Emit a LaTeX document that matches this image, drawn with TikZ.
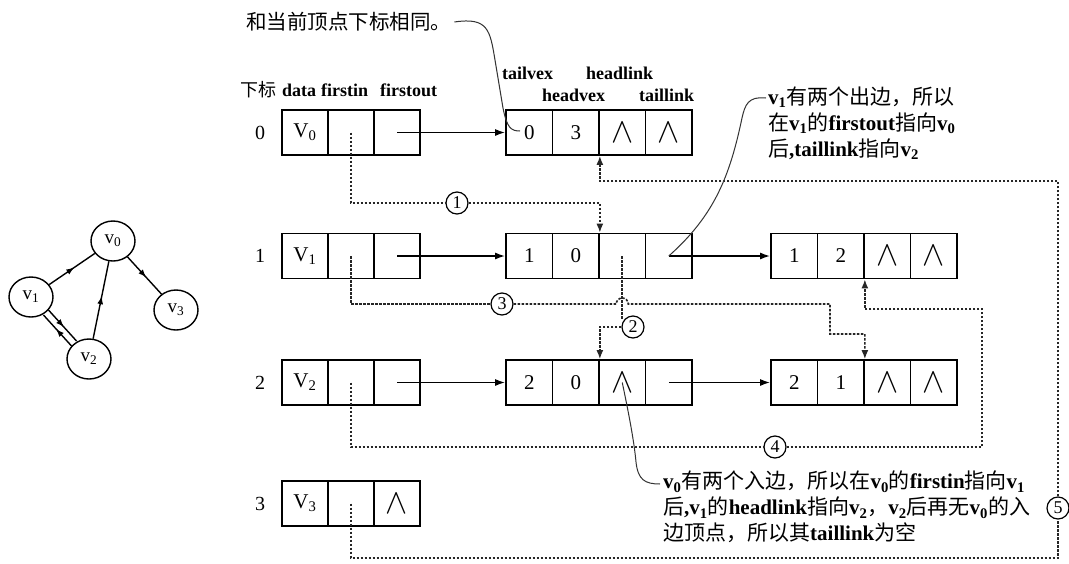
\documentclass[tikz,border=0pt]{standalone}
\usepackage{fontspec}
\usepackage{graphicx}
\setmainfont{Liberation Serif}
\newfontfamily\cjk{Noto Sans CJK SC}
\usetikzlibrary{arrows.meta,shapes.geometric,decorations.markings,calc}
\newcommand\zh[1]{{\cjk\mdseries #1}}
\newcommand\sbs[1]{\textsubscript{#1}}
\newcommand\nil{\scalebox{1.6}[1.7]{$\wedge$}}
\newcommand\vrow[4]{%
  \node[rowlbl] (r#1) at (260,#2) {#1};
  \node[vcell] (v#1d) at (305,#2) {#3};
  \node[vcell] (v#1i) at (351,#2) {};
  \node[vcell] (v#1o) at (397,#2) {#4};
}
\newcommand\arcbox[7]{%
  \node[cell] (#1a) at (#2+23.25,#3) {#4};
  \node[cell] (#1b) at (#2+69.75,#3) {#5};
  \node[cell] (#1c) at (#2+116.25,#3) {#6};
  \node[cell] (#1d) at (#2+162.75,#3) {#7};
}
\begin{document}
\begin{tikzpicture}[x=1pt,y=-1pt,
  cell/.style={draw,line width=1.7pt,minimum width=46.5pt,minimum height=45pt,inner sep=0pt,font=\fontsize{21}{21}\selectfont},
  vcell/.style={cell,minimum width=46pt},
  rowlbl/.style={inner sep=0pt,font=\fontsize{20}{20}\selectfont},
  hdr/.style={anchor=west,inner sep=0pt,font=\bfseries\fontsize{18}{20}\selectfont},
  ann/.style={anchor=north west,align=left,inner sep=0pt,font=\bfseries\fontsize{21}{26}\selectfont},
  arr/.style={line width=1.6pt,-{Latex[length=10pt,width=7pt]}},
  dsh/.style={line width=1.6pt,dash pattern=on 2.5pt off 1.5pt,black!85},
  dsharr/.style={dsh,-{Latex[length=9pt,width=7pt]}},
  num/.style={circle,draw,line width=1.2pt,fill=white,inner sep=0pt,minimum size=22pt,font=\fontsize{18}{18}\selectfont},
  lead/.style={line width=1pt,black!80},
  gnode/.style={ellipse,draw,line width=1.4pt,minimum width=44pt,minimum height=40pt,inner sep=0pt,font=\fontsize{19}{19}\selectfont},
  gedge/.style={line width=1.4pt,postaction={decorate},decoration={markings,mark=at position 0.55 with {\arrow{Latex[length=8pt,width=6pt]}}}}
]
\useasboundingbox (0,0) rectangle (1069,563);
\fill[white] (0,0) rectangle (1069,563);

% graph
\node[gnode] (g0) at (113,241) {v\sbs{0}};
\node[gnode] (g1) at (31,297) {v\sbs{1}};
\node[gnode] (g2) at (89,359) {v\sbs{2}};
\node[gnode] (g3) at (176,310) {v\sbs{3}};
\draw[gedge] (g1) -- (g0);
\draw[gedge] (g2) -- (g0);
\draw[gedge] (g0) -- (g3);
\draw[gedge] ([shift={(2.5,-2.5)}]g1.-46) -- ([shift={(2.5,-2.5)}]g2.134);
\draw[gedge] ([shift={(-2.5,2.5)}]g2.134) -- ([shift={(-2.5,2.5)}]g1.-46);

% headers
\node[hdr] (h0) at (240,90) {\zh{下标}\hspace{6pt}data\hspace{5pt}firstin\hspace{12pt}firstout};
\node[hdr] (h1) at (502,73) {tailvex};
\node[hdr] (h2) at (586,73) {headlink};
\node[hdr] (h3) at (542,95) {headvex};
\node[hdr] (h4) at (639,95) {taillink};

% vertex table
\vrow{0}{132.5}{V\sbs{0}}{}
\vrow{1}{256}{V\sbs{1}}{}
\vrow{2}{382.5}{V\sbs{2}}{}
\vrow{3}{503.5}{V\sbs{3}}{\nil}

% arc nodes
\arcbox{A0}{506}{132.5}{0}{3}{\nil}{\nil}
\arcbox{A1}{506}{256}{1}{0}{}{}
\arcbox{A2}{771}{256}{1}{2}{\nil}{\nil}
\arcbox{A3}{506}{382.5}{2}{0}{\nil}{}
\arcbox{A4}{771}{382.5}{2}{1}{\nil}{\nil}

% solid arrows
\draw[arr] (v0o.center) -- (A0a.west);
\draw[arr] (v1o.center) -- (A1a.west);
\draw[arr] (A1d.center) -- (A2a.west);
\draw[arr] (v2o.center) -- (A3a.west);
\draw[arr] (A3d.center) -- (A4a.west);

% circled numbers
\node[num] (c1) at (457,203) {1};
\node[num] (c2) at (633,327) {2};
\node[num] (c3) at (502,304) {3};
\node[num] (c4) at (775,447) {4};
\node[num] (c5) at (1058,508) {5};

% dashed links
\draw[dsh] (v0i.center) |- (c1.west);
\draw[dsharr] (c1.east) -| (A1b.north east);

\draw[dsh] (A1c.center) -- (A1c.center |- c2.north west);
\draw[dsharr] (c2.west) -| (A3b.north east);

\coordinate (j1) at (616.25,304);
\coordinate (k3) at (830,304);
\coordinate (k3b) at (830,334);
\draw[dsh] (v1i.center) |- (c3.west);
\draw[dsharr] (c3.east) -- (j1) arc[start angle=180,end angle=360,radius=6] -- (k3) -- (k3b) -| (A4b.north east);

\coordinate (k4a) at (982,447);
\coordinate (k4b) at (982,309);
\draw[dsh] (v2i.center) |- (c4.west);
\draw[dsharr] (c4.east) -- (k4a) -- (k4b) -| (A2b.south east);

\coordinate (k5a) at (1058,558);
\coordinate (k5b) at (1058,181);
\draw[dsh] (v3i.center) |- (k5a) -- (c5.south);
\draw[dsharr] (c5.north) -- (k5b) -| (A0b.south east);

% annotations
\node[anchor=west,inner sep=0pt,font=\fontsize{20.5}{20}\selectfont] (t0) at (246,22) {\zh{和当前顶点下标相同。}};
\coordinate (p0) at (520,131);
\draw[lead] ([xshift=3pt]t0.east) .. controls (488,17) and (490,30) .. (495,60) -- (503,108) .. controls (507,128) and (511,131) .. (p0);

\node[ann] (t1) at (768,87) {v\sbs{1}\zh{有两个出边，所以}\\ \zh{在}v\sbs{1}\zh{的}firstout\zh{指向}v\sbs{0}\\ \zh{后},taillink\zh{指向}v\sbs{2}};
\coordinate (q1) at (766,98);
\draw[lead] (q1) .. controls (748,96) and (745,105) .. (742,118) .. controls (730,175) and (715,215) .. (A1d.center);

\node[ann] (t2) at (663,471) {v\sbs{0}\zh{有两个入边，所以在}v\sbs{0}\zh{的}firstin\zh{指向}v\sbs{1}\\ \zh{后},v\sbs{1}\zh{的}headlink\zh{指向}v\sbs{2}\zh{，}v\sbs{2}\zh{后再无}v\sbs{0}\zh{的入}\\ \zh{边顶点，所以其}taillink\zh{为空}};
\coordinate (q2) at (660,484);
\draw[lead] (A3c.center) .. controls (628,410) and (634,440) .. (636,462) .. controls (638,480) and (645,484) .. (q2);
\end{tikzpicture}
\end{document}
